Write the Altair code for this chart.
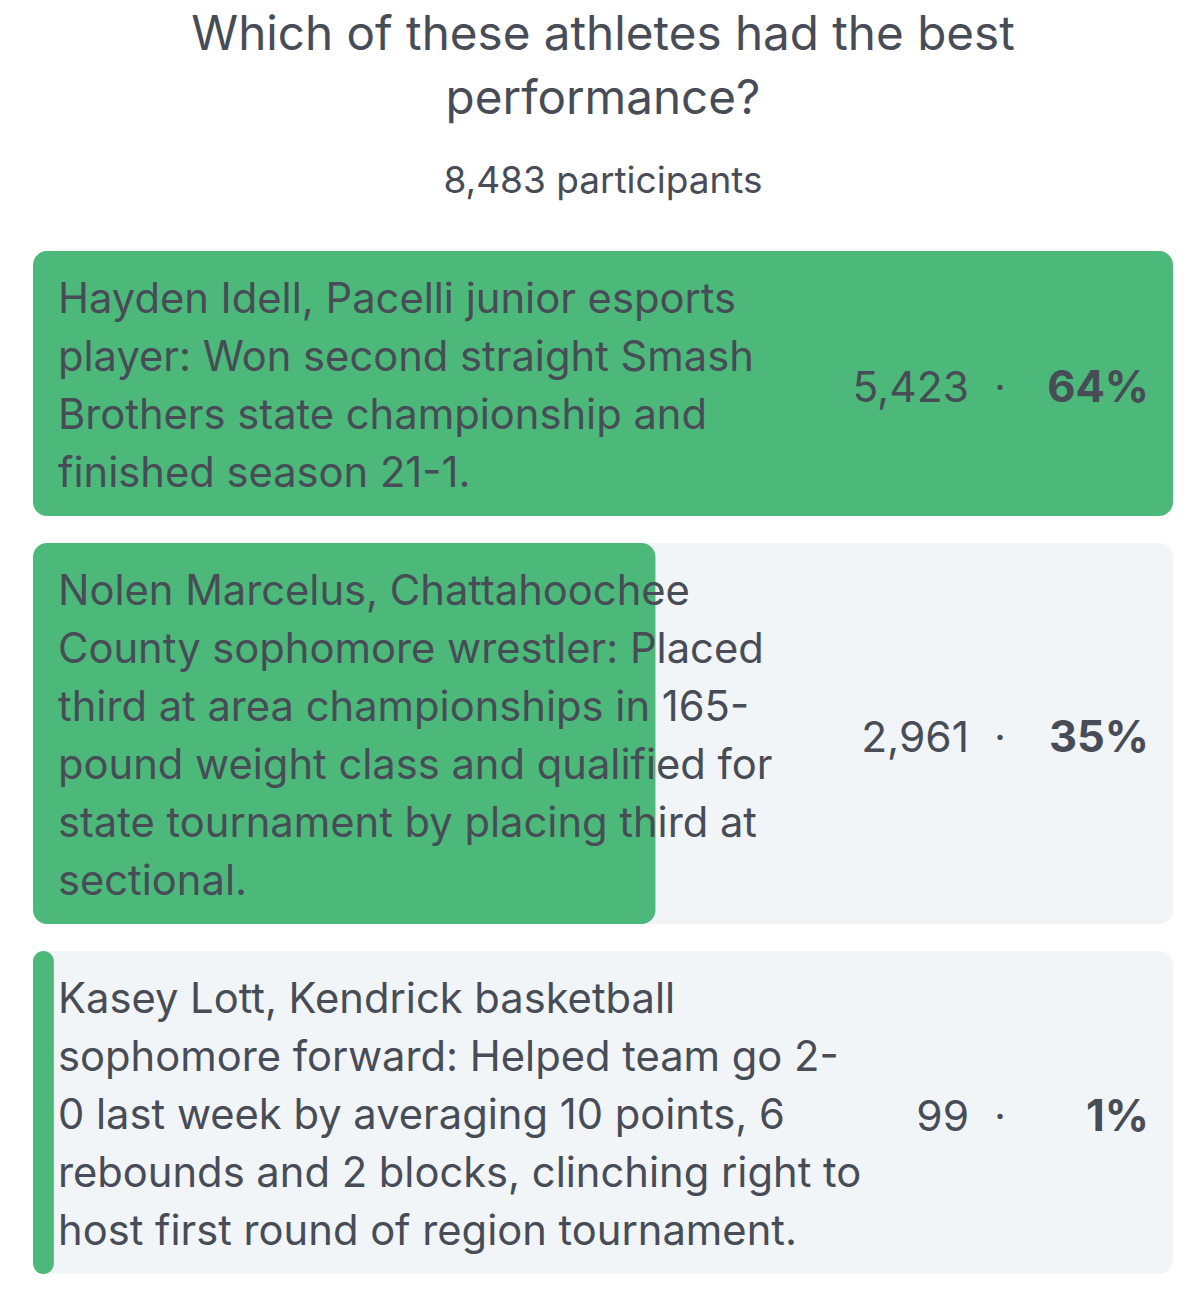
import altair as alt
import pandas as pd

question = ["Which of these athletes had the best", "performance?"]
participants = "8,483 participants"

option_lines = [
    ["Hayden Idell, Pacelli junior esports",
     "player: Won second straight Smash",
     "Brothers state championship and",
     "finished season 21-1."],
    ["Nolen Marcelus, Chattahoochee",
     "County sophomore wrestler: Placed",
     "third at area championships in 165-",
     "pound weight class and qualified for",
     "state tournament by placing third at",
     "sectional."],
    ["Kasey Lott, Kendrick basketball",
     "sophomore forward: Helped team go 2-",
     "0 last week by averaging 10 points, 6",
     "rebounds and 2 blocks, clinching right to",
     "host first round of region tournament."],
]
votes = [5423, 2961, 99]
percents = ["64%", "35%", "1%"]

GREEN = "#4cb97a"
BG = "#f2f5f7"
TXT = "#474c57"
FONT = "Inter"
W = 1140
LINE_H = 58
max_votes = max(votes)

panels = []
for lines, v, p in zip(option_lines, votes, percents):
    h = LINE_H * len(lines) + 33
    df = pd.DataFrame({"label": ["\n".join(lines)], "votes": [v],
                       "start": [0], "total": [max_votes],
                       "count": [f"{v:,}"], "pct": [p]})
    base = alt.Chart(df).properties(width=W, height=h)
    xs = alt.Scale(domain=[0, max_votes], nice=False, zero=True)
    bg = base.mark_bar(color=BG, cornerRadius=14).encode(
        x=alt.X("start:Q", scale=xs, axis=None),
        x2="total:Q",
        y=alt.value(0), y2=alt.value(h))
    bar = base.mark_bar(color=GREEN, cornerRadius=14).encode(
        x=alt.X("start:Q", scale=xs, axis=None),
        x2="votes:Q",
        y=alt.value(0), y2=alt.value(h))
    label = base.mark_text(align="left", baseline="middle", lineBreak="\n",
                           lineHeight=LINE_H, fontSize=41.7, font=FONT, color=TXT).encode(
        text="label:N", x=alt.value(25), y=alt.value(49))
    cnt = base.mark_text(align="right", baseline="middle", fontSize=42.5,
                         font=FONT, color=TXT).encode(
        text="count:N", x=alt.value(936), y=alt.value(h / 2 + 5))
    dot = base.mark_text(align="center", baseline="middle", fontSize=40,
                         font=FONT, color=TXT, text="·").encode(
        x=alt.value(967), y=alt.value(h / 2 + 5))
    pct = base.mark_text(align="right", baseline="middle", fontSize=43.5,
                         font=FONT, fontWeight="bold", color=TXT).encode(
        text="pct:N", x=alt.value(1116), y=alt.value(h / 2 + 5))
    panels.append(alt.layer(bg, bar, label, cnt, dot, pct))

chart = alt.vconcat(*panels, spacing=27).properties(
    title=alt.TitleParams(
        text=question, subtitle=participants, anchor="middle",
        font=FONT, fontSize=47.6, fontWeight="normal", color=TXT, lineHeight=64,
        subtitleFont=FONT, subtitleFontSize=37, subtitleColor=TXT,
        subtitlePadding=40, offset=51),
    padding={"left": 25, "top": 4, "right": 10, "bottom": 10},
).configure_view(stroke=None)

chart.save("out.html", embed_options={"renderer": "svg", "actions": False})
